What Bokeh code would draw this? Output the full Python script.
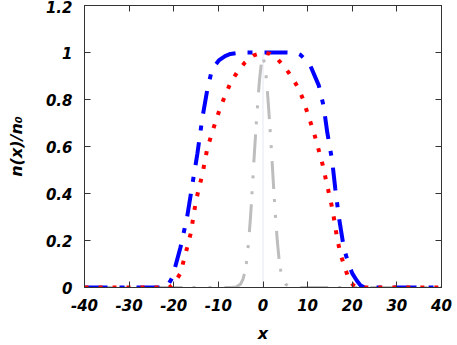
from bokeh.plotting import figure
from bokeh.models import FixedTicker, LinearAxis, Range1d
from bokeh.embed import file_html
from bokeh.resources import INLINE

# ---- data ----
x_blue = [-40, -23, -21.5, -20.7, -20.3, -19.5, -18.5, -17.0, -15.9, -14.7, -13.6, -12.5, -11.4,
          -9.9, -8.5, -7.3, -5, 0, 5, 7.5, 8.4, 9.5, 10.6, 12.5, 13.6, 14.4, 15.5, 16.2, 17.0,
          18.1, 19.0, 20.0, 21.0, 21.8, 22.8, 40]
y_blue = [0, 0, 0.004, 0.03, 0.044, 0.1, 0.17, 0.30, 0.43, 0.57, 0.72, 0.84, 0.93,
          0.966, 0.985, 0.994, 1.0, 1.0, 1.0, 0.998, 0.99, 0.97, 0.944, 0.86, 0.77, 0.66, 0.54, 0.42, 0.30,
          0.17, 0.11, 0.06, 0.03, 0.01, 0, 0]

x_red = [-40, -21, -20.0, -18.5, -17.7, -17.0, -16.2, -15.1, -14.4, -13.6, -12.5, -11.4, -9.5,
         -8.4, -7.3, -5.8, -4.1, -2.2, 0, 1.5, 3.2, 4.9, 6.5, 7.9, 9.0, 10.0, 11.4, 12.7, 13.4,
         14.2, 14.9, 15.6, 16.6, 17.4, 18.3, 19.2, 20.2, 21, 40]
y_red = [0, 0, 0.016, 0.06, 0.12, 0.17, 0.23, 0.36, 0.42, 0.48, 0.59, 0.66, 0.77,
         0.82, 0.87, 0.916, 0.956, 0.987, 1.0, 0.995, 0.973, 0.937, 0.894, 0.849, 0.80, 0.74, 0.66, 0.57, 0.52,
         0.45, 0.39, 0.33, 0.21, 0.14, 0.087, 0.037, 0.01, 0, 0]

x_gray = [-40, -7, -6, -5, -4.5, -4, -3.6, -3.2, -2.8, -2.4, -2.0, -1.6, -1.2, -0.8, -0.4, 0,
          0.4, 0.8, 1.2, 1.6, 2.0, 2.4, 2.8, 3.2, 3.6, 4.0, 4.5, 5.0, 6.0, 7.0, 40]
y_gray = [0, 0, 0.002, 0.015, 0.035, 0.07, 0.12, 0.2, 0.3, 0.42, 0.55, 0.67, 0.78, 0.88, 0.95, 0.98,
          0.95, 0.88, 0.78, 0.67, 0.55, 0.42, 0.3, 0.2, 0.12, 0.07, 0.035, 0.015, 0.002, 0, 0]

x_vline = [0, 0]
y_vline = [0, 1]

x_ticks = [-40, -30, -20, -10, 0, 10, 20, 30, 40]
x_tick_labels = ["-40", "-30", "-20", "-10", "0", "10", "20", "30", "40"]
y_ticks = [0, 0.2, 0.4, 0.6, 0.8, 1.0, 1.2]
y_tick_labels = ["0", "0.2", "0.4", "0.6", "0.8", "1", "1.2"]
x_title = "x"
y_title = "n(x)/n₀"

FONT = "DejaVu Sans"

p = figure(width=457, height=345, output_backend="svg", toolbar_location=None,
           x_range=Range1d(-40, 40), y_range=Range1d(0, 1.2),
           min_border_left=84, min_border_right=16, min_border_top=5, min_border_bottom=58)
p.grid.visible = False
p.background_fill_color = "white"
p.border_fill_color = "white"
p.outline_line_color = "#333333"

p.line(x_vline, y_vline, line_color="#e6e6f4", line_width=1)
p.line(x_gray, y_gray, line_color="#bdbdbd", line_width=3, line_dash="28 10 3 13 3 13")
p.line(x_blue, y_blue, line_color="#0000ff", line_width=4, line_dash="23 12 5 12")
p.line(x_red, y_red, line_color="#ff0000", line_width=4, line_dash="4 10")

def style_axis(ax, ticks, labels, show_labels=True):
    ax.ticker = FixedTicker(ticks=ticks)
    ax.major_tick_in = 6
    ax.major_tick_out = 0
    ax.minor_tick_line_color = None
    ax.axis_line_color = "#333333"
    ax.major_tick_line_color = "#333333"
    ax.major_label_text_font = FONT
    ax.major_label_text_font_style = "bold italic"
    ax.major_label_text_color = "black"
    ax.axis_label_text_font = FONT
    ax.axis_label_text_font_style = "bold italic"
    ax.axis_label_text_font_size = "16px"
    ax.axis_label_text_color = "black"
    if show_labels:
        ax.major_label_overrides = {t: l for t, l in zip(ticks, labels)}
        ax.major_label_text_font_size = "15px"
    else:
        ax.major_label_overrides = {t: "" for t in ticks}
        ax.major_label_text_font_size = "1px"
        ax.major_label_text_color = None
        ax.major_label_standoff = 0

style_axis(p.xaxis[0], x_ticks, x_tick_labels)
style_axis(p.yaxis[0], y_ticks, y_tick_labels)
p.xaxis[0].axis_label = x_title
p.yaxis[0].axis_label = y_title
p.xaxis[0].major_label_standoff = 11
p.yaxis[0].major_label_standoff = 12
p.xaxis[0].axis_label_standoff = 10
p.yaxis[0].axis_label_standoff = 17

top = LinearAxis()
right = LinearAxis()
style_axis(top, x_ticks, x_tick_labels, show_labels=False)
style_axis(right, y_ticks, y_tick_labels, show_labels=False)
p.add_layout(top, "above")
p.add_layout(right, "right")

open("out.html", "w").write(file_html(p, INLINE))
